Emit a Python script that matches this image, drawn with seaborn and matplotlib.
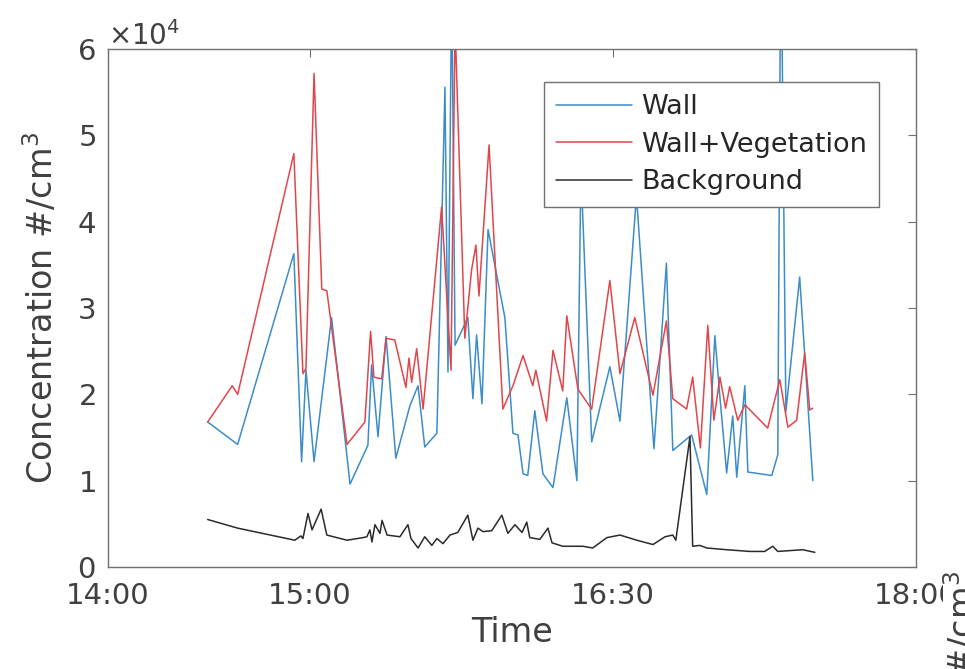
import matplotlib
matplotlib.use("Agg")
import matplotlib.pyplot as plt
import seaborn as sns
import pandas as pd

# ---------------- data (time = minutes after 14:00, concentration in #/cm^3) ----------------
wall_t = [29.6, 38.5, 55.2, 57.5, 58.8, 61.2, 66.4, 71.9, 77.2, 78.3, 80.2, 82.6, 85.5,
          89.7, 92.1, 94.1, 97.7, 100.1, 101.0, 102.1, 103.1, 106.9, 108.4, 109.5, 111.1,
          112.9, 117.9, 120.3, 121.8, 123.3, 124.7, 126.8, 129.2, 132.2, 136.3, 139.3,
          140.5, 143.7, 149.1, 152.1, 157.0, 162.2, 165.9, 167.8, 173.4, 177.9, 180.3,
          181.8, 183.8, 185.6, 186.8, 189.2, 190.1, 197.2, 199.0, 199.9, 201.4, 205.5, 209.4]
wall_v = [16800, 14200, 36300, 12200, 22800, 12200, 28900, 9600, 14100, 23400, 15100, 26700,
          12600, 18700, 21000, 13900, 15500, 55600, 22600, 68000, 25700, 28900, 19500, 26900,
          18900, 39100, 28900, 15500, 15300, 10800, 10600, 18100, 10800, 9200, 19600, 10000,
          46000, 14500, 23200, 16900, 43000, 13700, 35200, 13500, 15300, 8400, 26800, 19700,
          10900, 17500, 10400, 21000, 11000, 10600, 13000, 75000, 18000, 33600, 10000]

veg_t = [29.6, 36.9, 38.5, 55.2, 57.9, 58.8, 61.2, 63.5, 65.0, 71.0, 76.3, 78.0, 79.0,
         81.3, 82.6, 85.2, 88.5, 89.4, 90.2, 91.7, 93.6, 99.1, 101.9, 103.1, 106.0, 108.0,
         109.3, 110.2, 113.2, 117.3, 120.3, 123.3, 126.2, 127.1, 130.3, 132.2, 135.1,
         136.3, 139.6, 143.7, 149.1, 152.1, 156.5, 161.9, 165.9, 167.8, 171.9, 173.7,
         176.0, 178.2, 180.0, 181.8, 183.5, 184.7, 187.1, 189.2, 196.0, 199.6, 202.0,
         204.6, 207.0, 208.5, 209.4]
veg_v = [16800, 21000, 20000, 47900, 22400, 23000, 57200, 32200, 32000, 14200, 16800,
         27300, 22000, 21800, 26500, 26300, 20800, 24200, 21400, 25300, 18300, 41700,
         22800, 63000, 26500, 34400, 37300, 31400, 48900, 18300, 21000, 24500, 21000,
         22800, 16900, 25100, 20400, 29100, 20600, 18300, 33200, 22400, 28900, 19900,
         28500, 19500, 18300, 22000, 13800, 28000, 17000, 22000, 18400, 20900, 17000,
         18800, 16100, 21700, 16200, 17000, 24800, 18200, 18400]

bg_t = [29.6, 38.5, 55.5, 57.3, 57.9, 59.4, 60.6, 63.3, 65.0, 71.0, 75.7, 76.9, 77.8,
        78.4, 79.3, 80.8, 81.4, 82.9, 86.7, 89.1, 90.0, 92.1, 94.1, 96.2, 97.7, 99.5,
        101.6, 103.9, 106.9, 108.4, 109.9, 111.4, 114.0, 117.0, 118.8, 120.9, 123.0,
        124.4, 125.3, 128.3, 130.7, 131.9, 135.1, 141.1, 144.0, 148.2, 152.1, 157.1,
        161.9, 165.5, 167.8, 168.7, 172.9, 173.7, 175.8, 177.9, 183.8, 190.7, 195.1,
        197.5, 199.0, 206.4, 210.0]
bg_v = [5500, 4500, 3100, 3600, 3300, 6200, 4300, 6700, 3700, 3100, 3400, 3500, 4300,
        2900, 4900, 3900, 5400, 3700, 3500, 4900, 3300, 2200, 3500, 2500, 3300, 2700,
        3700, 4000, 6000, 3100, 4500, 4100, 4200, 6000, 3900, 4900, 4000, 5200, 3400,
        3200, 4500, 2800, 2400, 2400, 2200, 3400, 3700, 3100, 2600, 3500, 3700, 3100,
        15100, 2400, 2500, 2200, 2000, 1800, 1800, 2400, 1800, 2000, 1700]

series_names = ["Wall", "Wall+Vegetation", "Background"]
series_colors = ["#3b8dc9", "#e2464b", "#2b2b2b"]
xtick_pos = [0, 60, 150, 240]
xtick_labels = ["14:00", "15:00", "16:30", "18:00"]

# ---------------- style ----------------
sns.set_style("white")
plt.rcParams["font.family"] = ["DejaVu Sans"]
plt.rcParams["mathtext.fontset"] = "dejavusans"

text_col = "#404040"
axis_col = "#707070"

fig = plt.figure(figsize=(9.65, 6.69), dpi=100)
ax = fig.add_axes([0.112, 0.1525, 0.837, 0.774])

frames = [
    pd.DataFrame({"t": wall_t, "c": wall_v}),
    pd.DataFrame({"t": veg_t, "c": veg_v}),
    pd.DataFrame({"t": bg_t, "c": bg_v}),
]
for df, name, col in zip(frames, series_names, series_colors):
    sns.lineplot(data=df, x="t", y="c", ax=ax, color=col, label=name,
                 estimator=None, sort=False, linewidth=1.1)

ax.set_xlim(0, 240)
ax.set_ylim(0, 60000)
ax.set_xticks(xtick_pos)
ax.set_xticklabels(xtick_labels)
ax.set_yticks([0, 10000, 20000, 30000, 40000, 50000, 60000])
ax.ticklabel_format(axis="y", style="sci", scilimits=(0, 0), useMathText=True)
ax.yaxis.get_offset_text().set_fontsize(20)
ax.yaxis.get_offset_text().set_color(text_col)

ax.tick_params(axis="both", direction="in", top=True, right=True, length=6,
               width=0.8, color=axis_col, labelsize=21, labelcolor=text_col)
ax.tick_params(axis="x", pad=11)
ax.tick_params(axis="y", pad=9)
for sp in ax.spines.values():
    sp.set_visible(True)
    sp.set_color(axis_col)
    sp.set_linewidth(1.0)

ax.set_xlabel("Time", fontsize=24, color=text_col, labelpad=4)
ax.set_ylabel("Concentration #/cm$^3$", fontsize=24, color=text_col, labelpad=12)

leg = ax.legend(loc="upper right", bbox_to_anchor=(0.955, 0.936), borderaxespad=0,
                fontsize=19.5, frameon=True, fancybox=False, framealpha=1,
                edgecolor=axis_col, handlelength=2.8, handletextpad=0.35,
                labelspacing=0.42, borderpad=0.45)
leg.get_frame().set_linewidth(1.0)
for txt in leg.get_texts():
    txt.set_color("#262626")

# fragment of a neighbouring panel's axis label visible at the bottom-right edge
fig.text(0.997, 0.147, "Concentration #/cm$^3$", rotation=90, ha="center", va="top",
         fontsize=24, color=text_col,
         bbox=dict(facecolor="white", edgecolor="none", pad=0))

fig.savefig("out.png", dpi=100)
